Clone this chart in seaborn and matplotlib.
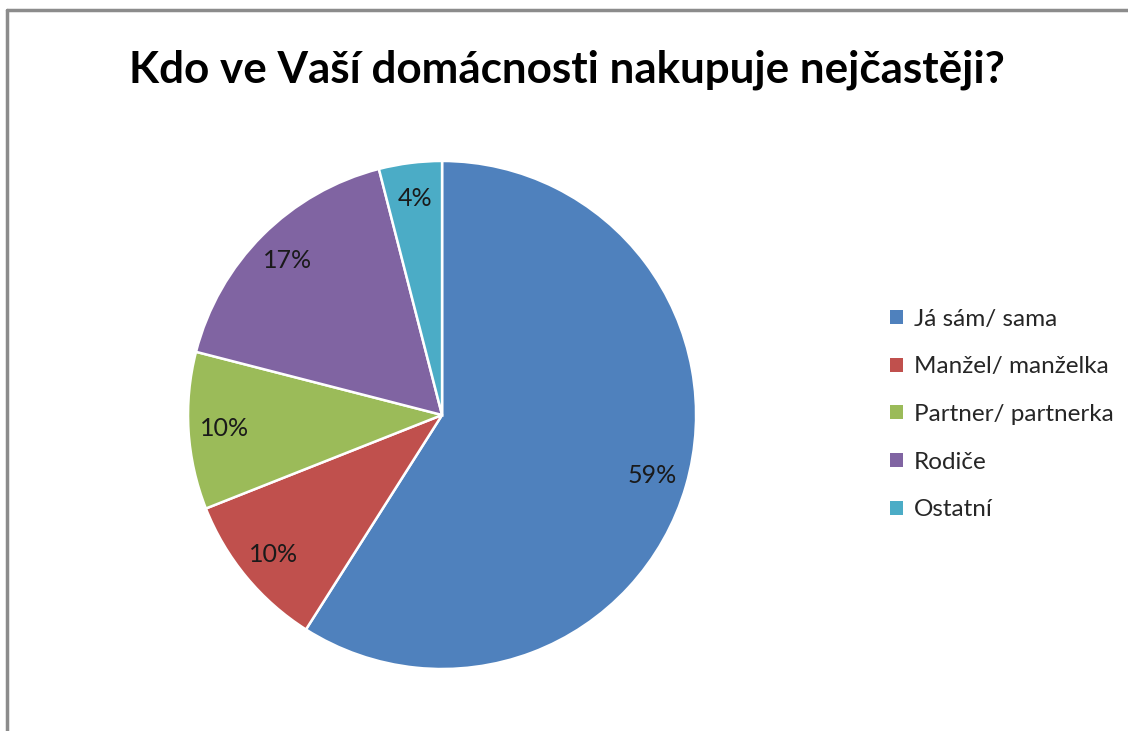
import matplotlib
matplotlib.use("Agg")
import matplotlib.pyplot as plt
import seaborn as sns
from matplotlib.lines import Line2D
from matplotlib.patches import Rectangle

# Data
kategorie = ["Já sám/ sama", "Manžel/ manželka", "Partner/ partnerka", "Rodiče", "Ostatní"]
podil = [59, 10, 10, 17, 4]
barvy = ["#4F81BD", "#C0504D", "#9BBB59", "#8064A2", "#4BACC6"]

sns.set_theme(style="white")
plt.rcParams['font.family'] = ['Lato', 'DejaVu Sans']

fig = plt.figure(figsize=(11.28, 7.31), dpi=100)
fig.patch.set_facecolor("white")

# pie axes: centred where the original has its pie
ax = fig.add_axes([0.1667, 0.0848, 0.4504, 0.695])
wedges, texts, autotexts = ax.pie(
    podil,
    colors=barvy,
    startangle=90,
    counterclock=False,
    autopct=lambda p: f"{p:.0f}%",
    pctdistance=0.86,
    wedgeprops=dict(edgecolor="white", linewidth=1.8),
    textprops=dict(fontsize=18, color="#1a1a1a"),
)
ax.set_xlim(-1, 1)
ax.set_ylim(-1, 1)
ax.set_aspect("equal")
for w in wedges:
    w.set_clip_on(False)

fig.text(0.503, 0.905, "Kdo ve Vaší domácnosti nakupuje nejčastěji?",
         ha="center", va="center", fontsize=31.7, fontweight="bold", color="black")

# legend
handles = [Rectangle((0, 0), 1, 1, facecolor=c, edgecolor="none") for c in barvy]
fig.legend(handles, kategorie, loc="center left", bbox_to_anchor=(0.77, 0.433),
           frameon=False, fontsize=17.5, handlelength=0.5, handleheight=0.5,
           handletextpad=0.45, labelspacing=1.1)

# chart frame (top and left edge visible in the crop)
fig.add_artist(Line2D([7 / 1128, 1], [1 - 10 / 731, 1 - 10 / 731], color="#8c8c8c", lw=2.5))
fig.add_artist(Line2D([7 / 1128, 7 / 1128], [0, 1 - 10 / 731], color="#8c8c8c", lw=2.5))

fig.savefig("out.png", dpi=100, facecolor="white")
